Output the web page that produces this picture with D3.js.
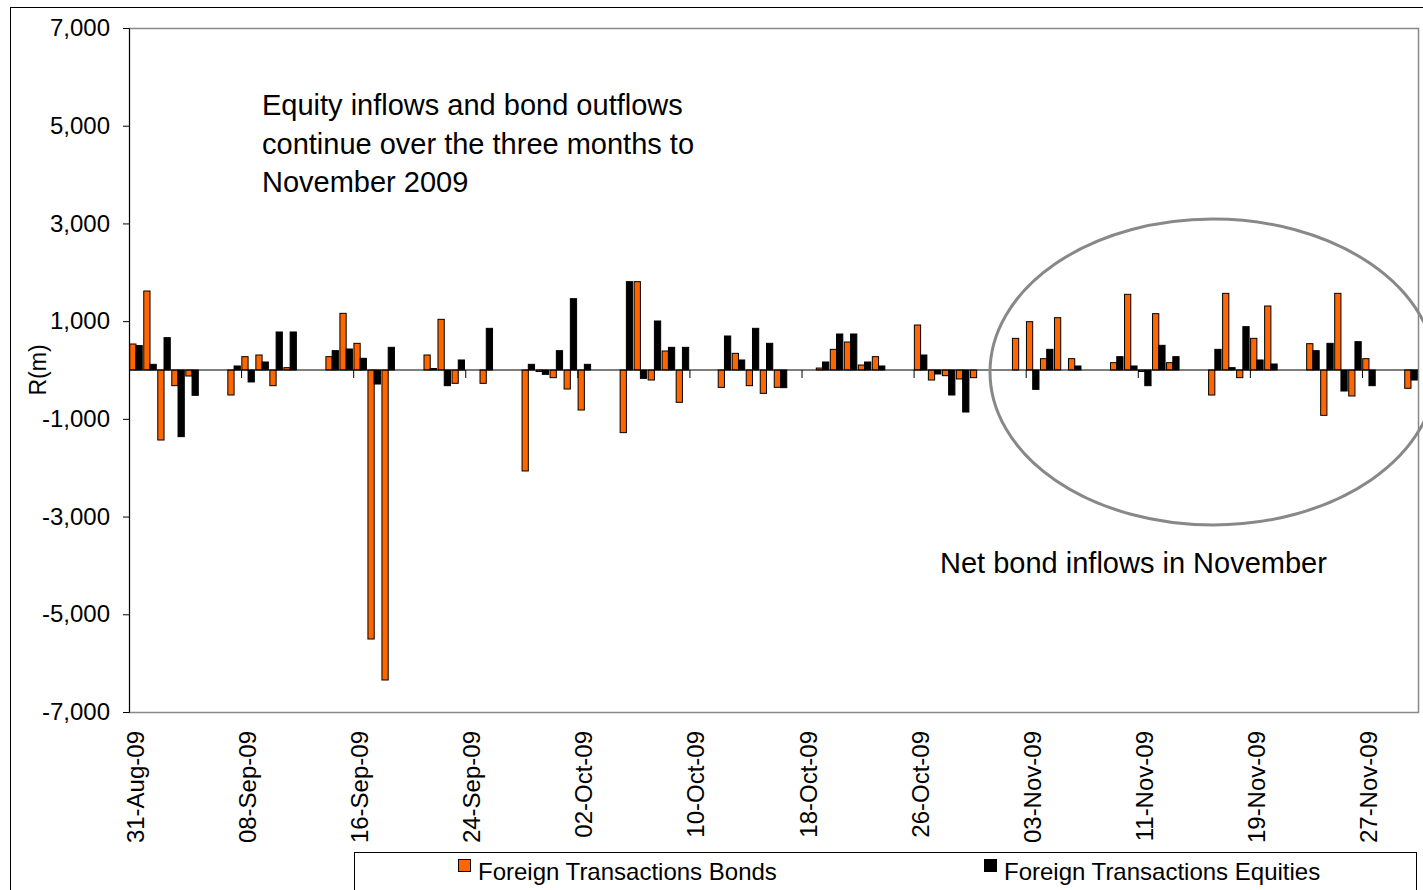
<!DOCTYPE html>
<html>
<head>
<meta charset="utf-8">
<script src="https://cdn.jsdelivr.net/npm/d3@7"></script>
<style>
  body { margin: 0; background: #fff; }
  text { font-family: "Liberation Sans", Arial, sans-serif; fill: #000; }
</style>
</head>
<body>
<div id="chart"></div>
<script>
// Daily data, 31-Aug-09 to 30-Nov-09 (weekends / holidays are zero)
var startDate = new Date(2009, 7, 31);
var endDate = new Date(2009, 11, 1);

// Foreign Transactions Bonds, R(m)
var bonds = [
  532, 1617, -1433, -321, -123, 0, 0,
  -512, 273, 307, -321, 48, 0, 0,
  273, 1160, 546, -5506, -6345, 0, 0,
  307, 1037, -273, 0, -273, 0, 0,
  -2067, -30, -157, -389, -819, 0, 0,
  -1282, 1808, -205, 389, -662, 0, 0,
  -355, 341, -321, -478, -355, 0, 0,
  40, 423, 573, 102, 273, 0, 0,
  921, -205, -116, -184, -157, 0, 0,
  648, 989, 232, 1071, 232, 0, 0,
  150, 1549, -30, 1153, 150, 0, 0,
  -512, 1569, -157, 648, 1310, 0, 0,
  539, -928, 1569, -532, 232, 0, 0,
  -375
];

// Foreign Transactions Equities, R(m)
var equities = [
  500, 116, 662, -1364, -518, 0, 0,
  82, -245, 164, 778, 778, 0, 0,
  396, 430, 239, -287, 464, 0, 0,
  30, -321, 205, 0, 853, 0, 0,
  116, -89, 396, 1460, 116, 0, 0,
  1808, -171, 1003, 464, 464, 0, 0,
  696, 205, 853, 546, -362, 0, 0,
  164, 737, 737, 164, 82, 0, 0,
  307, -82, -512, -860, 0, 0, 0,
  0, -396, 423, 0, 82, 0, 0,
  273, 82, -321, 505, 273, 0, 0,
  423, 48, 887, 205, 123, 0, 0,
  396, 546, -430, 580, -321, 0, 0,
  -205
];

var seriesNames = ["Foreign Transactions Bonds", "Foreign Transactions Equities"];
var seriesColors = ["#FF6600", "#000000"];

var tickLabels = ["31-Aug-09", "08-Sep-09", "16-Sep-09", "24-Sep-09", "02-Oct-09", "10-Oct-09",
  "18-Oct-09", "26-Oct-09", "03-Nov-09", "11-Nov-09", "19-Nov-09", "27-Nov-09"];
var yTicks = [-7000, -5000, -3000, -1000, 1000, 3000, 5000, 7000];

var svgWidth = 1423;
var svgHeight = 890;
var margin = { top: 28, right: 5, bottom: 178, left: 129 };
var chartWidth = 1418 - margin.left;
var chartHeight = svgHeight - margin.top - margin.bottom;

var parseLabel = d3.timeParse("%d-%b-%y");
var fmtKey = d3.timeFormat("%Y-%m-%d");
var days = d3.timeDay.range(startDate, endDate).map(fmtKey);

var data = days.map(function (d, i) {
  return { day: d, values: [bonds[i], equities[i]] };
});

var svg = d3.select("#chart")
  .append("svg")
  .attr("width", svgWidth)
  .attr("height", svgHeight);

// chart area frame
svg.append("rect")
  .attr("x", 10.5).attr("y", 7.5)
  .attr("width", 1440).attr("height", 900)
  .attr("fill", "none").attr("stroke", "#000");

var chartGroup = svg.append("g")
  .attr("transform", `translate(${margin.left}, ${margin.top})`);

var x = d3.scaleBand()
  .domain(days)
  .range([0, chartWidth])
  .paddingInner(0)
  .paddingOuter(0);

var xSub = d3.scaleBand()
  .domain([0, 1])
  .range([0, x.bandwidth()])
  .paddingOuter(0.12)
  .paddingInner(0);

var y = d3.scaleLinear()
  .domain([-7000, 7000])
  .range([chartHeight, 0]);

// plot area border (grey)
chartGroup.append("rect")
  .attr("x", 0.5).attr("y", 0.5)
  .attr("width", chartWidth).attr("height", chartHeight)
  .attr("fill", "none").attr("stroke", "#888").attr("stroke-width", 1.5);

// y axis
var commaFmt = d3.format(",");
var yAxis = d3.axisLeft(y)
  .tickValues(yTicks)
  .tickFormat(d => commaFmt(d).replace("\u2212", "-"))
  .tickSize(6)
  .tickPadding(13);

chartGroup.append("g")
  .attr("class", "y axis")
  .call(yAxis)
  .call(function (g) {
    g.select(".domain").attr("stroke", "#000");
    g.selectAll(".tick line").attr("stroke", "#000");
    g.selectAll("text").style("font-size", "24px").attr("fill", "#000")
      .style("font-family", "'Liberation Sans', Arial, sans-serif");
  });

// bars
var groups = chartGroup.selectAll(".day")
  .data(data)
  .enter()
  .append("g")
  .attr("class", "day")
  .attr("transform", d => `translate(${x(d.day)},0)`);

groups.selectAll("rect")
  .data(d => d.values.map((v, k) => ({ k: k, v: v })))
  .enter()
  .filter(d => d.v !== 0)
  .append("rect")
  .attr("x", d => xSub(d.k))
  .attr("width", xSub.bandwidth())
  .attr("y", d => y(Math.max(0, d.v)))
  .attr("height", d => Math.abs(y(d.v) - y(0)))
  .attr("fill", d => seriesColors[d.k])
  .attr("stroke", "#000")
  .attr("stroke-width", 1);

// zero line with category-boundary ticks
var tickDays = tickLabels.map(t => fmtKey(parseLabel(t)));

chartGroup.append("line")
  .attr("x1", 0).attr("x2", chartWidth)
  .attr("y1", y(0)).attr("y2", y(0))
  .attr("stroke", "#000").attr("stroke-width", 1.2);

chartGroup.selectAll(".xtick")
  .data(tickDays)
  .enter()
  .append("line")
  .attr("class", "xtick")
  .attr("x1", d => x(d) + 0.5).attr("x2", d => x(d) + 0.5)
  .attr("y1", y(0)).attr("y2", y(0) + 8)
  .attr("stroke", "#000");

// x labels under the plot
chartGroup.selectAll(".xlabel")
  .data(tickLabels)
  .enter()
  .append("text")
  .attr("class", "xlabel")
  .attr("transform", function (d, i) {
    var cx = x(tickDays[i]) + x.bandwidth() / 2;
    return `translate(${cx + 8},${chartHeight + 19}) rotate(-90)`;
  })
  .attr("text-anchor", "end")
  .style("font-size", "24px")
  .text(d => d);

// y axis title
svg.append("text")
  .attr("transform", "translate(38,370) rotate(-90)")
  .attr("text-anchor", "middle")
  .attr("dy", "0.35em")
  .style("font-size", "23px")
  .text("R(m)");

// annotations
var note = svg.append("text")
  .style("font-size", "29px");
["Equity inflows and bond outflows", "continue over the three months to", "November 2009"]
  .forEach(function (line, i) {
    note.append("tspan").attr("x", 262).attr("y", 115 + i * 38.5).text(line);
  });

svg.append("ellipse")
  .attr("cx", 1213).attr("cy", 372)
  .attr("rx", 223).attr("ry", 153)
  .attr("fill", "none")
  .attr("stroke", "#888")
  .attr("stroke-width", 3);

svg.append("text")
  .attr("x", 940).attr("y", 573)
  .style("font-size", "29px")
  .text("Net bond inflows in November");

// legend
var legend = svg.append("g");
legend.append("rect")
  .attr("x", 354.5).attr("y", 852.5)
  .attr("width", 1062).attr("height", 60)
  .attr("fill", "#fff").attr("stroke", "#000");

var legendX = [458, 984];
seriesNames.forEach(function (name, i) {
  legend.append("rect")
    .attr("x", legendX[i] + 0.5).attr("y", 859.5)
    .attr("width", 12).attr("height", 12)
    .attr("fill", seriesColors[i]).attr("stroke", "#000");
  legend.append("text")
    .attr("x", legendX[i] + 20).attr("y", 880)
    .style("font-size", "24px")
    .text(name);
});
</script>
</body>
</html>
